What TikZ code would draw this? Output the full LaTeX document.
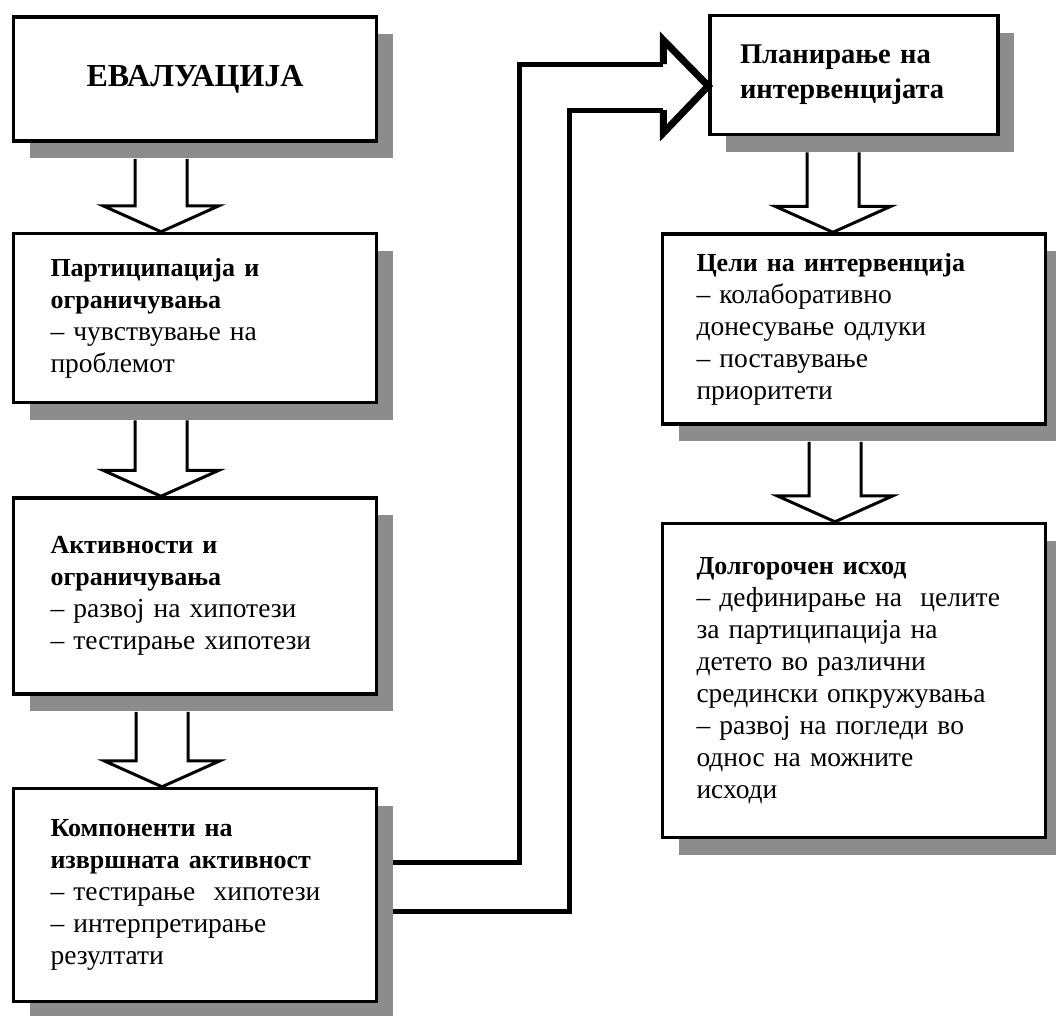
\documentclass[tikz,border=0pt]{standalone}
\usepackage{fontspec}
\setmainfont{Liberation Serif}
\usetikzlibrary{positioning, calc, shadows, backgrounds}

\newcommand{\blockdown}[3]{%
  \draw[hollow] let \p1=($(#1.south)+(#3,0)$), \p2=(#2.north) in
    (\x1-26pt,\y1-16pt) -- (\x1-26pt,\y2+26pt) -- (\x1-58pt,\y2+26pt) -- (\x1,\y2)
    -- (\x1+58pt,\y2+26pt) -- (\x1+26pt,\y2+26pt) -- (\x1+26pt,\y1-16pt);}
\newcommand{\head}[1]{{\fontsize{26pt}{32pt}\selectfont\bfseries #1}}

\begin{document}
\begin{tikzpicture}[
    box/.style={draw, line width=3.5pt, fill=white, align=left, inner xsep=37pt,
      text width=289pt, font=\fontsize{27.5pt}{32pt}\selectfont,
      drop shadow={shadow xshift=16pt, shadow yshift=-17pt, fill=black!45, opacity=1}},
    wide/.style={box, inner xsep=34pt, text width=315pt},
    hollow/.style={line width=3pt, miter limit=20},
    feed/.style={line width=5pt},
    feedhead/.style={line width=7pt, miter limit=20}]
    \useasboundingbox (0,0) rectangle (1056pt,-1015pt);

    \node[box, align=center, minimum height=124pt, font=\fontsize{32pt}{38pt}\selectfont\bfseries] (eval) at (195pt,-79pt) {\raisebox{-6pt}{ЕВАЛУАЦИЈА}};
    \node[box, minimum height=169pt] (part) [below=89pt of eval] {\head{Партиципација и\\ ограничувања}\\ – чувствување на\\ проблемот};
    \node[box, minimum height=196pt] (activ) [below=92pt of part] {\head{Активности и\\ ограничувања}\\ – развој на хипотези\\ – тестирање хипотези};
    \node[box, minimum height=213pt] (comp) [below=91pt of activ] {\head{Компоненти на\\ извршната активност}\\ – тестирање\ \ хипотези\\ – интерпретирање\\ резултати};

    \node[box, inner xsep=30pt, text width=228pt, minimum height=119pt, font=\fontsize{28.5pt}{35pt}\selectfont\bfseries] (plan) at (854pt,-75pt) {Планирање на\\ интервенцијата};
    \node[wide, minimum height=190pt] (goals) [below=96pt of plan] {\head{Цели на интервенција}\\ – колаборативно\\ донесување одлуки\\ – поставување\\ приоритети};
    \node[wide, minimum height=314pt] (outcome) [below=96pt of goals] {\head{Долгорочен исход}\\ – дефинирање на\ \ целите\\ за партиципација на\\ детето во различни\\ средински опкружувања\\ – развој на погледи во\\ однос на можните\\ исходи};

    \blockdown{eval}{part}{-34pt}
    \blockdown{part}{activ}{-34pt}
    \blockdown{activ}{comp}{-33pt}
    \blockdown{plan}{goals}{-21pt}
    \blockdown{goals}{outcome}{-19pt}

    \coordinate (tip) at ($(plan.west)+(0,-11pt)$);
    \begin{scope}[on background layer]
        \draw[feed] ($(comp.east)+(0,33pt)$) -| ($(tip)+(-189pt,22pt)$) -- ($(tip)+(-45pt,22pt)$);
        \draw[feed] ($(comp.east)+(0,-16pt)$) -| ($(tip)+(-139pt,-24pt)$) -- ($(tip)+(-45pt,-24pt)$);
    \end{scope}
    \draw[feedhead] ($(tip)+(-45pt,22pt)$) -- ($(tip)+(-45pt,46pt)$) -- (tip)
        -- ($(tip)+(-45pt,-47pt)$) -- ($(tip)+(-45pt,-24pt)$);
\end{tikzpicture}
\end{document}
